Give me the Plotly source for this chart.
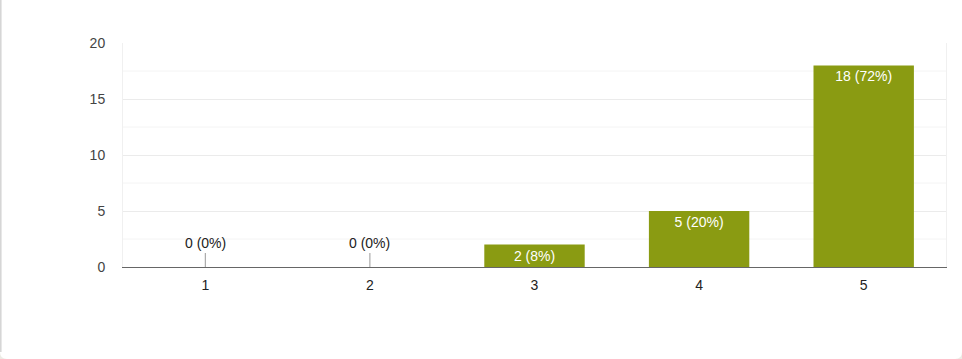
import plotly.graph_objects as go

categories = ["1", "2", "3", "4", "5"]
counts = [0, 0, 2, 5, 18]
percents = [0, 0, 8, 20, 72]
y_ticks = [0, 5, 10, 15, 20]

W, H = 962, 359
L, R, T, B = 123, 16, 43, 92
pw, ph = W - L - R, H - T - B
FONT = "Liberation Sans, Arial, sans-serif"

def px(x):
    return (x - L) / pw

def py(y):
    return (H - B - y) / ph

labels = [f"{c} ({p}%)" for c, p in zip(counts, percents)]
bar_text = [lab if c > 0 else "" for lab, c in zip(labels, counts)]

fig = go.Figure()
fig.add_trace(go.Bar(
    x=categories, y=counts, text=bar_text,
    textposition="inside", insidetextanchor="end", textangle=0,
    textfont=dict(color="white", size=14, family=FONT),
    marker=dict(color="#8a9b12", line=dict(width=0)),
    width=0.61, hoverinfo="skip",
))

annotations = []
for i, (c, lab) in enumerate(zip(counts, labels)):
    if c == 0:
        annotations.append(dict(
            x=i, y=0, xref="x", yref="y", text=lab, showarrow=True,
            arrowhead=0, arrowwidth=1, arrowcolor="#999999", ax=0, ay=-14,
            font=dict(size=14, color="#222222", family=FONT),
            yanchor="bottom",
        ))

# minor gridlines
shapes = []
for v in [2.5, 7.5, 12.5, 17.5]:
    shapes.append(dict(type="line", xref="paper", yref="y", x0=0, x1=1, y0=v, y1=v,
                       line=dict(color="#f4f4f4", width=1), layer="below"))

# card edge: left border and rounded bottom corners
x0, yb = px(0.8), py(358)
ytop = py(-5)
shapes.append(dict(type="line", xref="paper", yref="paper", x0=x0, x1=x0,
                   y0=ytop, y1=py(352), line=dict(color="#d4d4d4", width=1.5)))
for cx, sgn in [(0, 1), (962, -1)]:
    r = 7
    xa, xb = px(cx), px(cx + sgn * r)
    ya, yc = py(359), py(359 - r)
    path = f"M {xa},{ya} L {xa},{yc} Q {xa},{ya} {xb},{ya} Z"
    shapes.append(dict(type="path", xref="paper", yref="paper", path=path,
                       fillcolor="#ecebe4", line=dict(width=0)))

fig.update_layout(
    width=W, height=H,
    margin=dict(l=L, r=R, t=T, b=B, pad=0),
    paper_bgcolor="white", plot_bgcolor="white",
    showlegend=False,
    bargap=0.39,
    font=dict(family=FONT, size=14, color="#444444"),
    xaxis=dict(
        type="category", showgrid=False, showline=True, linecolor="#666666",
        linewidth=1, ticks="", tickfont=dict(size=14, color="#222222"),
        ticklabelstandoff=5,
    ),
    yaxis=dict(
        range=[0, 20], tickvals=y_ticks, showgrid=True, gridcolor="#ebebeb",
        zeroline=False, showline=True, mirror=True, linecolor="#f0f0f0",
        ticks="", tickfont=dict(size=14, color="#444444"), ticklabelstandoff=14,
    ),
    annotations=annotations,
    shapes=shapes,
)

fig.write_html("out.html")
